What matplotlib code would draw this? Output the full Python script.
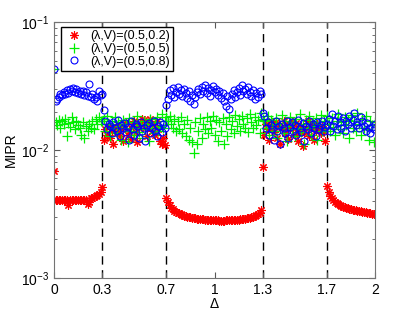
import numpy as np
import matplotlib
matplotlib.use('Agg')
import matplotlib.pyplot as plt
from matplotlib.ticker import LogLocator, NullFormatter

plt.rcParams['font.family'] = ['Liberation Sans', 'DejaVu Sans']
plt.rcParams['mathtext.default'] = 'regular'

# MIPR values in units of 1e-4, one per delta step of 0.01 (0 .. 2)
red = [68,
       41, 41, 41, 41, 41, 41, 41, 41, 37, 41, 41, 41, 41, 41, 41, 41, 41, 41, 41, 41,
       38, 39, 42, 42.5, 43, 43.5, 44.5, 45.5, 47,
       51,
       120, 145, 130, 155, 125, 140, 112, 150, 135, 160, 128, 145, 118, 150, 165, 132,
       140, 122, 155, 170, 138, 115, 148, 160, 175, 172, 150, 128, 165, 176, 140, 158,
       130, 170, 145, 118, 112, 125, 110,
       42, 39, 37, 35.5, 34.5, 33.5, 33, 32.5, 32, 31.5, 31, 30.7, 30.5, 30.2, 30,
       29.8, 29.6, 29.4, 29.3, 29.1, 29, 28.9, 28.8, 28.7, 28.6, 28.5, 28.5, 28.4,
       28.3, 28.3, 28.2, 28.2, 28.2, 28.1, 28.1, 28.1, 28.1, 28.2, 28.2,
       28.2, 28.3, 28.3, 28.4, 28.5, 28.5, 28.6, 28.7,
       28.8, 29, 29.1, 29.3, 29.5, 29.7, 30, 30.2, 30.5, 31, 31.5, 32.5, 34,
       74,
       130, 160, 145, 120, 170, 150, 138, 165, 125, 155, 112, 148, 168, 135, 158, 122,
       145, 170, 150, 130, 162, 118, 140, 155, 108, 135, 150, 168, 128, 145, 158, 120,
       140, 160, 150, 135, 155, 142, 118,
       52, 47, 44, 42, 40.5, 39.5, 38.5, 37.8, 37.2, 36.6, 36.1, 35.7, 35.3, 35, 34.7,
       34.4, 34.1, 33.9, 33.7, 33.5, 33.3, 33.1, 32.9, 32.7, 32.6, 32.4, 32.2, 32.1,
       31.9, 31.8, 31.6]

green = [430,
         165, 158, 172, 150, 168, 160, 175, 128, 162, 152, 180, 165, 145, 170, 158, 148,
         132, 165, 125, 155, 140, 160, 150, 170, 145, 175, 160, 180, 168,
         170,
         175, 140, 185, 160, 128, 170, 150, 180, 135, 165, 155, 120, 172, 148, 160, 115,
         178, 142, 165, 130, 150, 185, 138, 158, 125, 170, 145, 160, 118, 175, 150, 135,
         165, 180, 140, 155, 190, 148, 170,
         180, 170, 185, 160, 148, 175, 140, 168, 145, 180, 135, 160, 128, 172, 120, 150,
         115, 95, 165, 112, 140, 178, 125, 160, 145, 182, 135, 170, 150, 185, 130, 172,
         118, 165, 140, 178, 112, 160, 128, 182, 145, 170, 135, 188, 155, 175, 142, 185,
         160, 150, 178, 138, 190, 165, 148, 182, 158, 172, 135, 195,
         175,
         168, 150, 185, 130, 172, 158, 140, 178, 125, 162, 150, 188, 135, 170, 118, 155,
         180, 145, 165, 128, 175, 150, 190, 138, 160, 112, 172, 148, 185, 130, 165, 155,
         178, 120, 160, 188, 142, 170, 150,
         185, 160, 140, 178, 152, 130, 170, 190, 145, 165, 135, 180, 158, 172, 125, 188,
         150, 168, 140, 195, 160, 132, 175, 150, 185, 145, 120, 170, 158, 115, 165]

blue = [430,
        240, 250, 262, 275, 268, 285, 272, 295, 280, 300, 290, 305, 285, 298, 280, 292,
        275, 290, 270, 282, 265, 330, 258, 272, 250, 262, 240, 290, 268,
        275, 205,
        170, 145, 160, 155, 135, 165, 150, 140, 172, 128, 158, 148, 162, 138, 152, 120,
        168, 145, 130, 160, 155, 125, 165, 140, 150, 118, 158, 162, 135, 148, 170, 142,
        128, 155, 165, 138, 160, 150,
        225,
        250, 295, 270, 305, 260, 285, 310, 275, 295, 265, 300, 280, 255, 290, 240, 270,
        230, 260, 285, 300, 275, 310, 290, 320, 280, 305, 265, 295, 315, 285, 300, 270,
        290, 255, 280, 240, 220, 265, 210, 250, 275, 295, 260, 285, 305, 270, 320, 290,
        300, 275, 310, 285, 265, 295, 250, 280, 260, 290, 275,
        195, 185,
        150, 165, 130, 158, 145, 120, 168, 140, 155, 112, 160, 148, 135, 170, 125, 152,
        165, 142, 158, 130, 172, 150, 138, 162, 118, 155, 145, 168, 135, 160, 150, 128,
        165, 145, 158, 170, 140, 152,
        160, 175, 140, 190, 155, 170, 145, 185, 165, 150, 178, 142, 168, 160, 185, 150,
        172, 195, 158, 165, 148, 180, 170, 155, 140, 162, 148, 135, 152, 145, 160]

labels = ['(λ,V)=(0.5,0.2)', '(λ,V)=(0.5,0.5)', '(λ,V)=(0.5,0.8)']
boundaries = [0.3, 0.7, 1.3, 1.7]
xticks = [0, 0.3, 0.7, 1, 1.3, 1.7, 2]

delta = np.arange(201) / 100.0
red_v = np.array(red) * 1e-4
green_v = np.array(green) * 1e-4
blue_v = np.array(blue) * 1e-4

fig = plt.figure(figsize=(4.15, 3.12), dpi=100)
ax = fig.add_axes([0.130, 0.109, 0.774, 0.820])

ax.plot(delta, red_v, linestyle='none', marker=(8, 2, 0), color='#ff0000',
        markersize=6, markeredgewidth=0.8, label=labels[0])
ax.plot(delta, green_v, linestyle='none', marker='+', color='#00ee00',
        markersize=6.5, markeredgewidth=0.9, label=labels[1])
ax.plot(delta, blue_v, linestyle='none', marker='o', color='#0000ff',
        markerfacecolor='none', markersize=5, markeredgewidth=0.8, label=labels[2])

for b in boundaries:
    ax.axvline(b, color='k', linestyle=(0, (6, 4)), linewidth=1.0, zorder=0.5)

ax.set_yscale('log')
ax.set_xlim(0, 2)
ax.set_ylim(1e-3, 1e-1)
ax.set_xticks(xticks)
ax.set_xticklabels(['0', '0.3', '0.7', '1', '1.3', '1.7', '2'])
ax.yaxis.set_minor_locator(LogLocator(base=10, subs=np.arange(2, 10)))
ax.yaxis.set_minor_formatter(NullFormatter())
ax.tick_params(which='both', direction='in', top=True, right=True,
               labelsize=10, color='0.35')
ax.tick_params(which='major', length=4)
ax.tick_params(which='minor', length=2)
for s in ax.spines.values():
    s.set_color('0.45')

ax.set_xlabel('Δ', fontsize=10, labelpad=0)
ax.set_ylabel('MIPR', fontsize=10, labelpad=2)

ax.legend(loc='upper left', bbox_to_anchor=(0.022, 0.98), borderaxespad=0,
          fontsize=9, fancybox=False, edgecolor='k', framealpha=1,
          handlelength=1.6, handletextpad=0.5, labelspacing=0.05, borderpad=0.25)

fig.savefig('out.png', dpi=100)
